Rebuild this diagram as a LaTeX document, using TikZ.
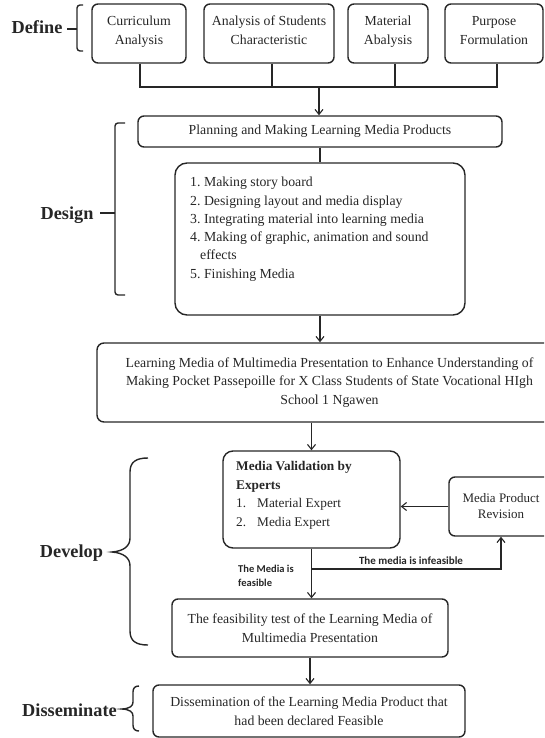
\documentclass[tikz,border=0pt]{standalone}
\usepackage{fontspec}
\setmainfont{Liberation Serif}
\newfontfamily\lblfont{Carlito}
\usetikzlibrary{arrows.meta}
\definecolor{ink}{gray}{0.15}
\frenchspacing
\begin{document}
\begin{tikzpicture}[x=1pt,y=-1pt,
  every node/.style={text=ink},
  box/.style={draw=ink, line width=1.4pt, rounded corners=6pt, align=center, inner sep=0pt,
    font=\fontsize{13.8}{18.5}\selectfont},
  conn/.style={draw=ink, line width=1.1pt},
  arr/.style={conn, -{Straight Barb[length=5pt,width=8pt]}},
  phase/.style={font=\bfseries\fontsize{18.3}{20}\selectfont, inner sep=0pt, anchor=base},
  brc/.style={draw=ink, line width=1.4pt, rounded corners=3pt},
  small/.style={font=\lblfont\bfseries\fontsize{11}{14}\selectfont, inner sep=0pt, align=left},
  listtext/.style={anchor=north west, align=left, inner sep=0pt, font=\fontsize{13.8}{18.3}\selectfont}]
\useasboundingbox (0,0) rectangle (544,738);
\clip (0,0) rectangle (544,738);

% ---- Define ----
\node[box, minimum width=94pt, minimum height=59pt] (cur) at (139,33.5) {Curriculum\\Analysis\\[-12pt]};
\node[box, minimum width=130pt, minimum height=59pt] (stu) at (269,33.5) {Analysis of Students\\Characteristic\\[-12pt]};
\node[box, minimum width=80pt, minimum height=59pt] (mat) at (388,33.5) {Material\\Abalysis\\[-12pt]};
\node[box, minimum width=98pt, minimum height=59pt] (pur) at (494,33.5) {Purpose\\Formulation\\[-12pt]};
\coordinate (j) at (319,87);
\coordinate (d1) at ([xshift=1pt]cur.south);
\coordinate (d2) at ([xshift=3pt]stu.south);
\coordinate (d3) at ([xshift=7pt]mat.south);
\coordinate (d4) at ([xshift=3pt]pur.south);
\draw[conn] (d1) -- (d1 |- j) -- (d4 |- j) -- (d4);
\draw[conn] (d2) -- (d2 |- j);
\draw[conn] (d3) -- (d3 |- j);

% ---- Design ----
\node[box, minimum width=364pt, minimum height=31pt] (plan) at (320,131.5) {Planning and Making Learning Media Products};
\draw[arr] (j) -- (j |- plan.north);
\node[box, minimum width=290pt, minimum height=152pt, rounded corners=12pt] (list) at (320,239) {};
\node[listtext] (listtxt) at (190,177) {1. Making story board\\2. Designing layout and media display\\3. Integrating material into learning media\\4. Making of graphic, animation and sound\\\hspace*{10pt}effects\\5. Finishing Media};
\draw[conn] (plan.south) -- (list.north);

% ---- Learning media ----
\node[box, minimum width=465pt, minimum height=79pt, rounded corners=7pt] (lm) at (329.5,382.5) {Learning Media of Multimedia Presentation to Enhance Understanding of\\Making Pocket Passepoille for X Class Students of State Vocational HIgh\\School 1 Ngawen};
\draw[arr] (list.south) -- (list.south |- lm.north);

% ---- Develop ----
\node[box, minimum width=177pt, minimum height=97pt, rounded corners=10pt] (val) at (311.5,499.5) {};
\node[listtext, font=\fontsize{13.3}{18.7}\selectfont] (valtxt) at (236,461) {\textbf{Media Validation by}\\\textbf{Experts}\\\makebox[21pt][l]{1.}Material Expert\\\makebox[21pt][l]{2.}Media Expert};
\draw[arr] (val.north |- lm.south) -- (val.north);
\node[box, minimum width=104pt, minimum height=59pt, font=\fontsize{13}{16}\selectfont] (rev) at (501,506.5) {Media Product\\Revision};
\draw[arr] (rev.west) -- (rev.west -| val.east);
\node[box, minimum width=276pt, minimum height=58pt] (feas) at (310,628) {The feasibility test of the Learning Media of\\Multimedia Presentation};
\draw[arr] (val.south) -- (val.south |- feas.north);
\coordinate (b) at (311.5,569);
\draw[arr] (b) -| (rev.south);
\node[small, anchor=base] (inf) at (411,564) {The media is infeasible};
\node[small, anchor=north west, font=\lblfont\bfseries\fontsize{10.5}{14}\selectfont] (fea) at (238,565) {The Media is\\feasible};

% ---- Disseminate ----
\node[box, minimum width=312pt, minimum height=52pt] (dis) at (309,711) {Dissemination of the Learning Media Product that\\had been declared Feasible};
\draw[arr] (feas.south) -- (feas.south |- dis.north);

% ---- phase labels and braces ----
\node[phase] (ldef) at (37,34) {Define};
\draw[brc] (83,5) -- (77,5) -- (77,51) -- (83,51);
\draw[brc] (67,29) -- (77,29);

\node[phase] (ldes) at (67,219) {Design};
\draw[brc] (125,123) -- (115,123) -- (115,295) -- (125,295);
\draw[brc] (100,213) -- (115,213);

\node[phase] (ldev) at (71.5,557) {Develop};
\draw[draw=ink, line width=1.4pt] (148,458) .. controls (136,458) and (130,462) .. (130,472) -- (130,538) .. controls (130,546) and (124,551) .. (112,552) .. controls (124,553) and (130,558) .. (130,566) -- (130,631) .. controls (130,641) and (136,645) .. (148,645);

\node[phase] (ldis) at (69.5,716) {Disseminate};
\draw[draw=ink, line width=1.4pt] (139,686) .. controls (135,686) and (133,688) .. (133,692) -- (133,702) .. controls (133,706) and (130,708.5) .. (122,709) .. controls (130,709.5) and (133,712) .. (133,716) -- (133,725) .. controls (133,729) and (135,731) .. (139,731);
\end{tikzpicture}
\end{document}
